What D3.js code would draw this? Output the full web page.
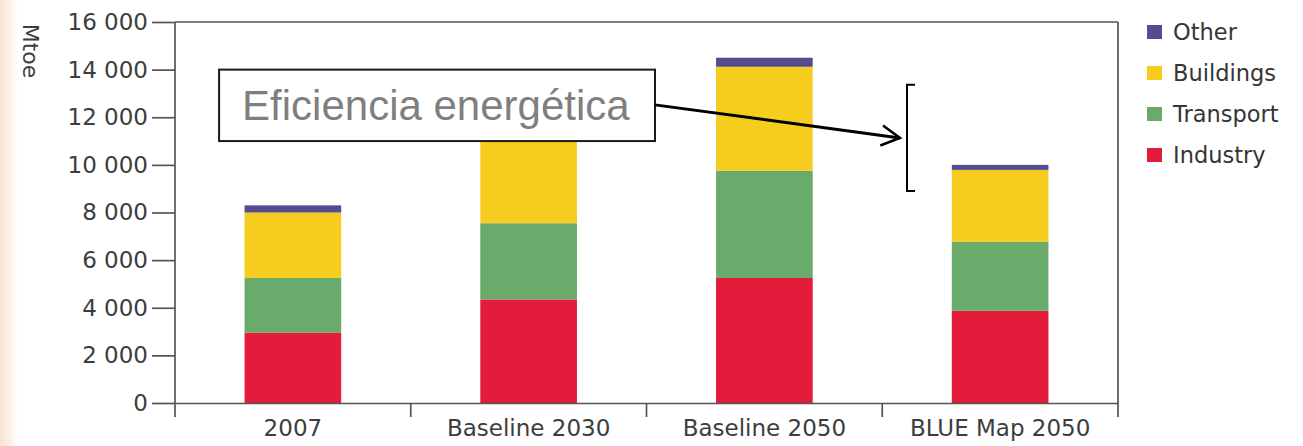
<!DOCTYPE html>
<html>
<head>
<meta charset="utf-8">
<script src="https://cdn.jsdelivr.net/npm/d3@7"></script>
<style>
  body { margin: 0; background: #fff; }
  svg { display: block; }
</style>
</head>
<body>
<div id="chart"></div>
<script>
// data (Mtoe)
var categories = ["2007", "Baseline 2030", "Baseline 2050", "BLUE Map 2050"];
var industry  = [2950, 4350, 5250, 3870];
var transport = [2300, 3200, 4500, 2900];
var buildings = [2750, 3800, 4370, 3020];
var other     = [300, 350, 380, 210];
var yTicks = [0, 2000, 4000, 6000, 8000, 10000, 12000, 14000, 16000];
var seriesNames = ["Industry", "Transport", "Buildings", "Other"];
var legendOrder = ["Other", "Buildings", "Transport", "Industry"];
var colors = {Industry: "#e41c3c", Transport: "#6aab6c", Buildings: "#f6cc1e", Other: "#564b8e"};

// annotation, in chart units (x = position in categories, y = Mtoe)
var noteText = "Eficiencia energética";
var noteBox = {x0: 0.187, x1: 2.036, y0: 14000, y1: 11000, textY: 11880};
var noteArrow = {x0: 2.036, y0: 12520, x1: 3.075, y1: 11130};
var noteBracket = {x: 3.105, tick: 0.034, y0: 13360, y1: 8900};

var W = 1303, H = 446;
var margin = {top: 22, right: 185, bottom: 43, left: 175};
var width = W - margin.left - margin.right,
    height = H - margin.top - margin.bottom;

var svg = d3.select("#chart").append("svg")
  .attr("width", W)
  .attr("height", H);

// peach strip on the left edge
var grad = svg.append("defs").append("linearGradient")
  .attr("id", "edge").attr("x1", "0").attr("x2", "1");
grad.append("stop").attr("offset", "0").attr("stop-color", "#fbe2cf");
grad.append("stop").attr("offset", "0.45").attr("stop-color", "#fdeee3");
grad.append("stop").attr("offset", "1").attr("stop-color", "#fff");
svg.append("rect").attr("width", 18).attr("height", H).attr("fill", "url(#edge)");

var g = svg.append("g")
  .attr("transform", "translate(" + margin.left + "," + margin.top + ")");

var x = d3.scaleBand()
  .domain(categories)
  .range([0, width])
  .paddingInner(0.59)
  .paddingOuter(0.295);

var y = d3.scaleLinear()
  .domain([0, 16000])
  .range([height, 0]);

var xAt = function(f) { return f * x.step(); };

var rows = categories.map(function(c, i) {
  return {cat: c, Industry: industry[i], Transport: transport[i], Buildings: buildings[i], Other: other[i]};
});
var stacked = d3.stack().keys(seriesNames)(rows);

// bars
g.selectAll("g.layer")
  .data(stacked)
  .enter().append("g")
  .attr("class", "layer")
  .attr("fill", function(d) { return colors[d.key]; })
  .selectAll("rect")
  .data(function(d) { return d; })
  .enter().append("rect")
  .attr("x", function(d) { return x(d.data.cat); })
  .attr("width", x.bandwidth())
  .attr("y", function(d) { return y(d[1]); })
  .attr("height", function(d) { return y(d[0]) - y(d[1]); });

var axisColor = "#555";
var textColor = "#3d3d3d";
var fontFam = "'DejaVu Sans', sans-serif";
var loc = d3.formatLocale({decimal: ".", thousands: " ", grouping: [3], currency: ["", ""]});

// y axis
var yAxis = g.append("g")
  .call(d3.axisLeft(y).tickValues(yTicks).tickSize(23).tickPadding(4).tickFormat(loc.format(",")));
yAxis.select(".domain").remove();
yAxis.selectAll("line").attr("stroke", axisColor).attr("stroke-width", 1.7);
yAxis.selectAll("text")
  .attr("fill", textColor)
  .style("font-family", fontFam)
  .style("font-size", "23px");

// frame: left axis line, top line, right line
g.append("line").attr("x1", 0).attr("x2", 0).attr("y1", 0).attr("y2", height + 14)
  .attr("stroke", axisColor).attr("stroke-width", 1.7);
g.append("line").attr("x1", 0).attr("x2", width).attr("y1", 0).attr("y2", 0)
  .attr("stroke", axisColor).attr("stroke-width", 1.7);
g.append("line").attr("x1", width).attr("x2", width).attr("y1", 0).attr("y2", height + 14)
  .attr("stroke", axisColor).attr("stroke-width", 1.7);

// x axis with ticks at category boundaries
var xAxis = g.append("g")
  .attr("transform", "translate(0," + height + ")")
  .call(d3.axisBottom(x).tickSize(0).tickPadding(17));
xAxis.select(".domain").attr("stroke", axisColor).attr("stroke-width", 1.7);
xAxis.selectAll("text")
  .attr("fill", textColor)
  .style("font-family", fontFam)
  .style("font-size", "23px");
xAxis.selectAll("line.sep")
  .data(d3.range(1, categories.length))
  .enter().append("line")
  .attr("class", "sep")
  .attr("x1", function(d) { return xAt(d); })
  .attr("x2", function(d) { return xAt(d); })
  .attr("y1", 0).attr("y2", 14)
  .attr("stroke", axisColor).attr("stroke-width", 1.7);

// unit label
svg.append("text")
  .attr("transform", "translate(23,51) rotate(90)")
  .attr("text-anchor", "middle")
  .attr("fill", textColor)
  .style("font-family", fontFam)
  .style("font-size", "22px")
  .text("Mtoe");

// legend
var legend = svg.append("g")
  .attr("transform", "translate(1147,32)");
var li = legend.selectAll("g")
  .data(legendOrder)
  .enter().append("g")
  .attr("transform", function(d, i) { return "translate(0," + (i * 41) + ")"; });
li.append("rect")
  .attr("x", 0).attr("y", -7)
  .attr("width", 15).attr("height", 14)
  .attr("fill", function(d) { return colors[d]; });
li.append("text")
  .attr("x", 26)
  .attr("dy", "0.36em")
  .attr("fill", "#353535")
  .style("font-family", fontFam)
  .style("font-size", "22.5px")
  .text(function(d) { return d; });

// annotation box + arrow + bracket
var note = g.append("g");
note.append("rect")
  .attr("x", xAt(noteBox.x0))
  .attr("y", y(noteBox.y0))
  .attr("width", xAt(noteBox.x1) - xAt(noteBox.x0))
  .attr("height", y(noteBox.y1) - y(noteBox.y0))
  .attr("fill", "#fff")
  .attr("stroke", "#1a1a1a")
  .attr("stroke-width", 2);
note.append("text")
  .attr("x", xAt(noteBox.x0) + 23)
  .attr("y", y(noteBox.textY))
  .attr("fill", "#7f7f7f")
  .style("font-family", "'Liberation Sans', Arial, sans-serif")
  .style("font-size", "42px")
  .text(noteText);

var ax0 = xAt(noteArrow.x0), ay0 = y(noteArrow.y0),
    ax1 = xAt(noteArrow.x1), ay1 = y(noteArrow.y1);
note.append("line")
  .attr("x1", ax0).attr("y1", ay0).attr("x2", ax1).attr("y2", ay1)
  .attr("stroke", "#000").attr("stroke-width", 3);
var ang = Math.atan2(ay1 - ay0, ax1 - ax0), hl = 21, hw = 0.5;
note.append("path")
  .attr("d", "M" + (ax1 - hl * Math.cos(ang - hw)) + "," + (ay1 - hl * Math.sin(ang - hw)) +
             "L" + ax1 + "," + ay1 +
             "L" + (ax1 - hl * Math.cos(ang + hw)) + "," + (ay1 - hl * Math.sin(ang + hw)))
  .attr("fill", "none").attr("stroke", "#000").attr("stroke-width", 2.5);

var bx = xAt(noteBracket.x), bt = xAt(noteBracket.x + noteBracket.tick);
note.append("path")
  .attr("d", "M" + bt + "," + y(noteBracket.y0) + "H" + bx + "V" + y(noteBracket.y1) + "H" + bt)
  .attr("fill", "none").attr("stroke", "#000").attr("stroke-width", 2);
</script>
</body>
</html>
